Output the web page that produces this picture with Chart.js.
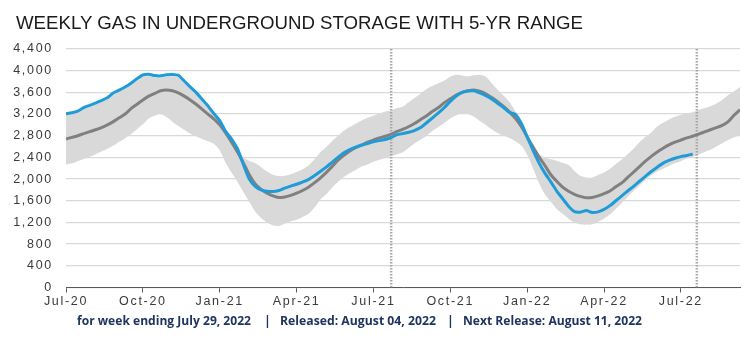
<!DOCTYPE html>
<html>
<head>
<meta charset="utf-8">
<script src="https://cdn.jsdelivr.net/npm/chart.js@4.4.1/dist/chart.umd.min.js"></script>
<style>
  html, body { margin: 0; padding: 0; background: #ffffff; }
  #wrap { position: relative; width: 742px; height: 340px; overflow: hidden; background: #fff; }
  #c { position: absolute; left: 0; top: 0; }
  .txt { position: absolute; white-space: nowrap; transform-origin: 0 0; }
  #title { left: 16px; top: 13px; font: 19px/19px "Liberation Sans", Arial, sans-serif; color: #1a1a1a; }
  .foot { top: 314px; font: bold 12.5px/14px "Open Sans", "Noto Sans", sans-serif; color: #1f3560; }
</style>
</head>
<body>
<div id="wrap">
  <canvas id="c" width="742" height="340"></canvas>
  <div id="title" class="txt">WEEKLY GAS IN UNDERGROUND STORAGE WITH 5-YR RANGE</div>
  <div id="f1" class="txt foot" style="left:77px">for week ending July 29, 2022</div>
  <div id="s1" class="txt foot" style="left:264px">|</div>
  <div id="f2" class="txt foot" style="left:280px">Released: August 04, 2022</div>
  <div id="s2" class="txt foot" style="left:447px">|</div>
  <div id="f3" class="txt foot" style="left:463px">Next Release: August 11, 2022</div>
</div>
<script>
// ---- Data (weekly, index 0 = first week of Jul-20) ----
const currentStorage = [
  3207,3225,3255,3320,3360,3400,3450,3500,3588,3640,
  3700,3770,3850,3920,3935,3910,3905,3925,3930,3915,
  3810,3700,3600,3475,3350,3210,3080,2880,2740,2560,
  2270,2000,1867,1800,1775,1770,1790,1835,1870,1905,
  1945,1990,2060,2140,2220,2310,2400,2485,2545,2590,
  2625,2655,2690,2710,2730,2770,2820,2840,2865,2900,
  2950,3040,3130,3220,3320,3434,3530,3600,3625,3630,
  3590,3540,3480,3400,3320,3230,3195,3030,2780,2530,
  2300,2110,1950,1780,1640,1500,1400,1390,1420,1385,
  1395,1440,1510,1600,1690,1780,1867,1960,2050,2140,
  2220,2295,2345,2385,2415,2435,2464
];
const fiveYearAvg = [
  2740,2770,2800,2840,2875,2910,2950,3000,3060,3130,
  3200,3300,3380,3460,3530,3580,3630,3645,3630,3590,
  3530,3460,3380,3290,3200,3110,3000,2850,2680,2500,
  2300,2080,1910,1810,1740,1690,1660,1670,1700,1740,
  1790,1850,1930,2020,2120,2230,2350,2440,2520,2580,
  2630,2680,2720,2760,2790,2830,2880,2920,2970,3030,
  3100,3170,3250,3320,3410,3480,3550,3600,3630,3645,
  3620,3575,3505,3430,3340,3240,3120,2970,2780,2590,
  2410,2250,2080,1960,1850,1775,1720,1680,1655,1660,
  1690,1730,1780,1860,1930,2030,2130,2230,2330,2420,
  2500,2570,2630,2680,2720,2760,2790,2830,2870,2910,
  2950,2990,3060,3180,3280
];
const fiveYearMax = [
  3180,3200,3230,3290,3330,3370,3420,3470,3550,3610,
  3670,3740,3810,3880,3900,3880,3875,3890,3895,3880,
  3780,3670,3570,3445,3320,3180,3050,2860,2720,2550,
  2400,2340,2290,2220,2140,2080,2055,2060,2090,2130,
  2180,2250,2360,2490,2590,2700,2800,2890,2960,3020,
  3080,3130,3170,3210,3245,3265,3310,3340,3420,3500,
  3580,3660,3720,3770,3820,3890,3925,3910,3895,3915,
  3925,3890,3770,3650,3540,3420,3250,3060,2820,2620,
  2460,2400,2365,2340,2300,2260,2150,2060,2030,2030,
  2075,2120,2190,2280,2360,2460,2560,2680,2780,2860,
  2970,3040,3100,3150,3185,3215,3235,3275,3310,3345,
  3395,3460,3550,3620,3700
];
const fiveYearMin = [
  2267,2290,2330,2370,2410,2460,2510,2560,2620,2690,
  2750,2830,2920,3010,3120,3170,3200,3140,3060,2980,
  2910,2840,2790,2740,2700,2650,2530,2300,2120,1950,
  1760,1580,1400,1280,1200,1150,1135,1180,1220,1250,
  1300,1360,1470,1620,1720,1840,1950,2040,2110,2170,
  2230,2270,2320,2355,2390,2420,2460,2500,2580,2660,
  2730,2800,2890,2960,3040,3120,3180,3220,3200,3150,
  3070,3000,2920,2850,2800,2760,2700,2620,2450,2200,
  1930,1720,1580,1450,1360,1270,1200,1165,1160,1165,
  1215,1270,1350,1450,1560,1670,1780,1880,1990,2070,
  2140,2190,2240,2290,2330,2380,2410,2450,2500,2540,
  2600,2660,2720,2770,2810
];
const tickWeeks  = [0, 13, 26, 39, 52, 65, 78, 91, 104];
const tickLabels = ['Jul-20','Oct-20','Jan-21','Apr-21','Jul-21','Oct-21','Jan-22','Apr-22','Jul-22'];
const markerWeeks = [55, 106.7];
const yMin = 0, yMax = 4400, yStep = 400;
const lastWeek = 114;

// ---- Build chart ----
const toXY = arr => arr.map((v, i) => ({ x: i, y: v }));
const markerSets = markerWeeks.map(w => ({
  type: 'line',
  data: [{ x: w, y: yMin }, { x: w, y: yMax }],
  borderColor: '#a8a8a8',
  borderWidth: 2.5,
  borderDash: [1.5, 1.5],
  pointRadius: 0,
  fill: false,
  order: 3
}));

const spacingPlugin = {
  id: 'spacing',
  beforeDraw(chart) { chart.ctx.letterSpacing = '1.7px'; },
  beforeLayout(chart) { chart.ctx.letterSpacing = '1.7px'; }
};

new Chart(document.getElementById('c'), {
  type: 'line',
  data: {
    datasets: [
      { label: 'Current', data: toXY(currentStorage), borderColor: '#1f9bd7', borderWidth: 3, pointRadius: 0, tension: 0.2, fill: false, order: 0 },
      { label: '5-yr avg', data: toXY(fiveYearAvg), borderColor: '#808080', borderWidth: 3, pointRadius: 0, tension: 0.2, fill: false, order: 1 },
      ...markerSets,
      { label: '5-yr max', data: toXY(fiveYearMax), borderWidth: 0, borderColor: 'rgba(0,0,0,0)', backgroundColor: '#d9d9d9', pointRadius: 0, tension: 0.3, fill: '+1', order: 5 },
      { label: '5-yr min', data: toXY(fiveYearMin), borderWidth: 0, borderColor: 'rgba(0,0,0,0)', pointRadius: 0, tension: 0.3, fill: false, order: 6 }
    ]
  },
  options: {
    responsive: false,
    devicePixelRatio: 1,
    animation: false,
    layout: { padding: { top: 49, right: 2, left: 0, bottom: 0 } },
    plugins: { legend: { display: false }, tooltip: { enabled: false }, title: { display: false } },
    scales: {
      x: {
        type: 'linear',
        min: 0,
        max: lastWeek,
        afterBuildTicks(s) { s.ticks = tickWeeks.map(v => ({ value: v })); },
        afterFit(s) { s.height = 52.5; },
        ticks: {
          autoSkip: false, maxRotation: 0, padding: 2,
          color: '#3a3a3a',
          font: { family: '"Liberation Sans", Arial, sans-serif', size: 12.5 },
          callback(v) { const k = tickWeeks.indexOf(v); return k >= 0 ? tickLabels[k] : ''; }
        },
        grid: { display: true, drawOnChartArea: false, drawTicks: true, tickLength: 5, color: '#595959', lineWidth: 1 },
        border: { display: true, color: '#595959', width: 1 }
      },
      y: {
        min: yMin,
        max: yMax,
        afterFit(s) { s.width = 66; },
        ticks: {
          stepSize: yStep, padding: 13,
          color: '#3a3a3a',
          font: { family: '"Liberation Sans", Arial, sans-serif', size: 12.5 },
          callback(v) { return v.toLocaleString('en-US'); }
        },
        grid: { color: '#d9d9d9', lineWidth: 1.3, drawTicks: false },
        border: { display: false }
      }
    }
  },
  plugins: [spacingPlugin]
});

// ---- fit text widths ----
function fit(id, w) {
  const el = document.getElementById(id);
  const r = el.getBoundingClientRect().width;
  if (r > 0) el.style.transform = 'scaleX(' + (w / r) + ')';
}
fit('title', 567);
fit('f1', 174);
fit('f2', 156);
fit('f3', 179);
</script>
</body>
</html>
